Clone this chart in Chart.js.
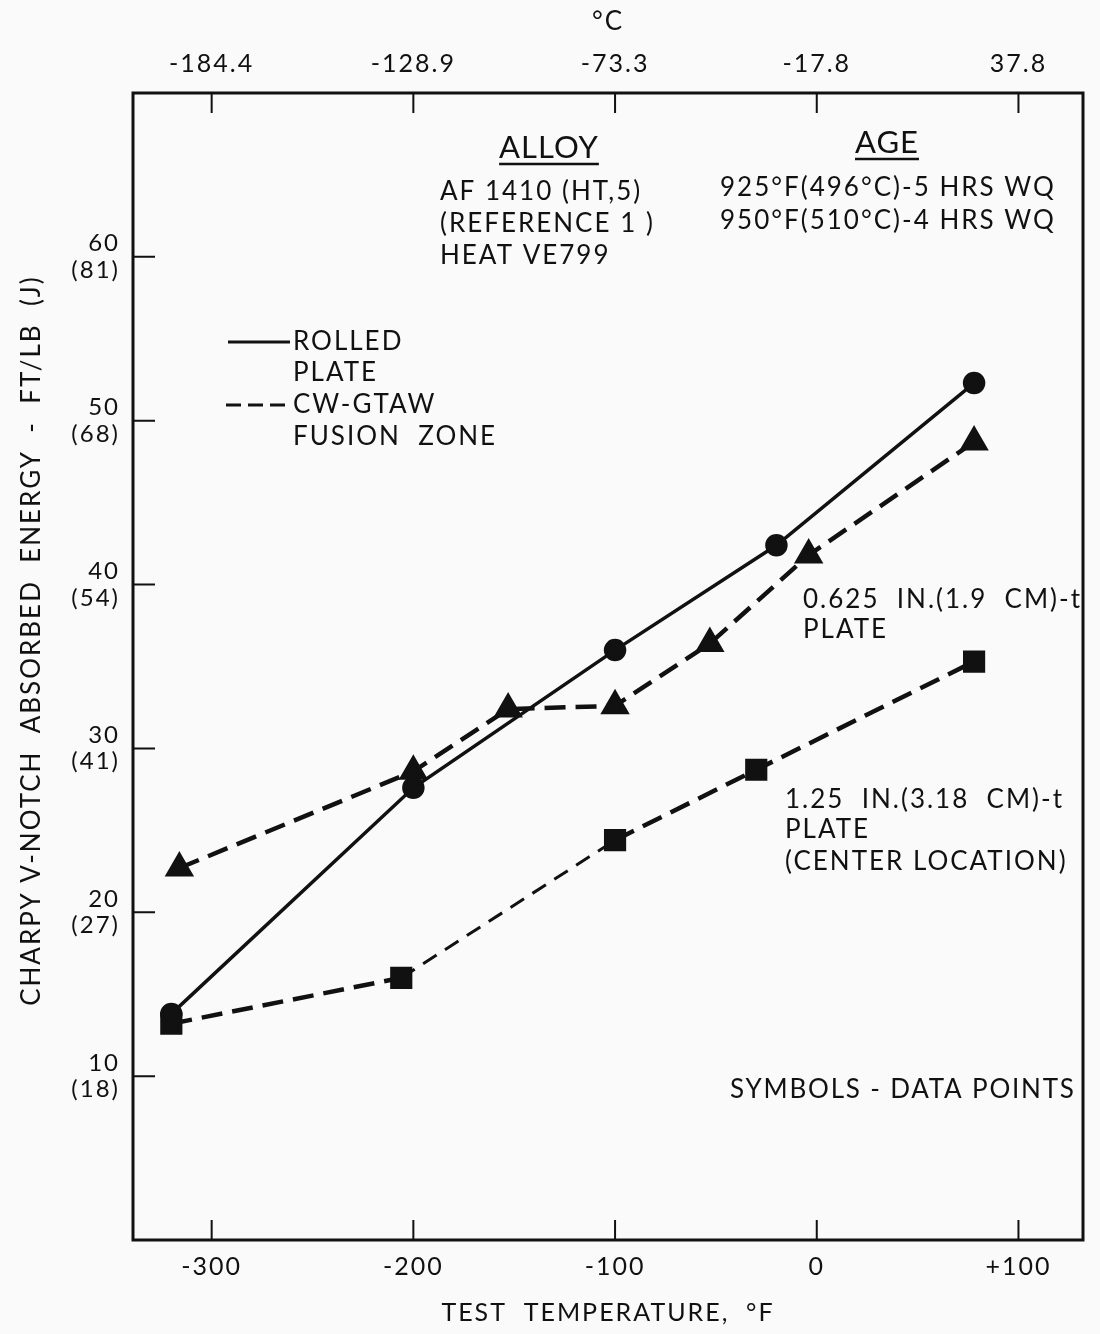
<!DOCTYPE html>
<html>
<head>
<meta charset="utf-8">
<script src="https://cdn.jsdelivr.net/npm/chart.js@4.4.1/dist/chart.umd.min.js"></script>
<style>
  body { margin: 0; background: #fafafa; }
  #wrap { width: 1100px; height: 1334px; position: relative; }
</style>
</head>
<body>
<div id="wrap"><canvas id="charpyChart"></canvas></div>
<script>
// data (deg F, ft-lb)
const rolledTemps = [-320, -200, -100, -20, 78];
const rolledEnergy = [13.8, 27.6, 36.0, 42.4, 52.3];

const fz625Temps = [-316, -200, -153, -100, -53, -4, 78];
const fz625Energy = [22.7, 28.6, 32.4, 32.6, 36.4, 41.8, 48.7];

const fz125Temps = [-320, -206, -100, -30, 78];
const fz125Energy = [13.2, 16.0, 24.4, 28.7, 35.3];

// axis ticks
const fTicks = [-300, -200, -100, 0, 100];
const fLabels = ['-300', '-200', '-100', '0', '+100'];
const cLabels = ['-184.4', '-128.9', '-73.3', '-17.8', '37.8'];
const energyTicks = [10, 20, 30, 40, 50, 60];
const joulesLabels = ['18', '27', '41', '54', '68', '81'];

const FONT = 'Lato';
const INK = '#111';

function toPoints(xs, ys) {
  return xs.map((x, i) => ({ x: x, y: ys[i] }));
}

// texts on the plot
const notes = [
  { t: 'ALLOY', x: 549, y: 148, size: 31, align: 'center', underline: true, sp: 1 },
  { t: 'AF 1410 (HT,5)', x: 440, y: 192 },
  { t: '(REFERENCE 1 )', x: 440, y: 224 },
  { t: 'HEAT VE799', x: 440, y: 256 },
  { t: 'AGE', x: 887, y: 143, size: 31, align: 'center', underline: true, sp: 1 },
  { t: '925\u00b0F(496\u00b0C)-5 HRS WQ', x: 720, y: 188 },
  { t: '950\u00b0F(510\u00b0C)-4 HRS WQ', x: 720, y: 221 },
  { t: 'ROLLED', x: 293, y: 342 },
  { t: 'PLATE', x: 293, y: 373 },
  { t: 'CW-GTAW', x: 293, y: 405 },
  { t: 'FUSION  ZONE', x: 293, y: 437 },
  { t: '0.625  IN.(1.9  CM)-t', x: 803, y: 600 },
  { t: 'PLATE', x: 803, y: 630 },
  { t: '1.25  IN.(3.18  CM)-t', x: 785, y: 800 },
  { t: 'PLATE', x: 785, y: 830 },
  { t: '(CENTER LOCATION)', x: 785, y: 862 },
  { t: 'SYMBOLS - DATA POINTS', x: 730, y: 1090, sp: 1.8 }
];

const framePlugin = {
  id: 'framePlugin',
  beforeDraw(chart) {
    // wide type like the original lettering
    chart.ctx.letterSpacing = '2px';
  },
  afterDraw(chart) {
    const ctx = chart.ctx;
    const a = chart.chartArea;
    const xs = chart.scales.x;
    const ys = chart.scales.y;
    ctx.save();
    ctx.strokeStyle = INK;
    ctx.lineWidth = 3;
    ctx.strokeRect(a.left, a.top, a.right - a.left, a.bottom - a.top);

    // inward ticks
    ctx.lineWidth = 2;
    ctx.beginPath();
    fTicks.forEach(v => {
      const px = xs.getPixelForValue(v);
      ctx.moveTo(px, a.bottom); ctx.lineTo(px, a.bottom - 20);
      ctx.moveTo(px, a.top); ctx.lineTo(px, a.top + 20);
    });
    energyTicks.forEach(v => {
      const py = ys.getPixelForValue(v);
      ctx.moveTo(a.left, py); ctx.lineTo(a.left + 22, py);
    });
    ctx.stroke();

    // legend samples
    ctx.lineWidth = 3;
    ctx.beginPath();
    ctx.moveTo(228, 342); ctx.lineTo(290, 342);
    ctx.stroke();
    ctx.setLineDash([15, 7]);
    ctx.beginPath();
    ctx.moveTo(226, 405); ctx.lineTo(290, 405);
    ctx.stroke();
    ctx.setLineDash([]);

    ctx.fillStyle = INK;
    ctx.textBaseline = 'middle';
    notes.forEach(n => {
      const size = n.size || 26;
      ctx.letterSpacing = (n.sp !== undefined ? n.sp : 2) + 'px';
      ctx.font = size + 'px ' + FONT;
      ctx.textAlign = n.align || 'left';
      ctx.fillText(n.t, n.x, n.y);
      if (n.underline) {
        const w = ctx.measureText(n.t).width;
        ctx.lineWidth = 2.5;
        ctx.beginPath();
        ctx.moveTo(n.x - w / 2, n.y + size * 0.52);
        ctx.lineTo(n.x + w / 2, n.y + size * 0.52);
        ctx.stroke();
      }
    });
    ctx.restore();
    ctx.letterSpacing = '0px';
  }
};

const ctx = document.getElementById('charpyChart').getContext('2d');
const chart = new Chart(ctx, {
  type: 'line',
  data: {
    datasets: [
      {
        label: 'Rolled plate',
        data: toPoints(rolledTemps, rolledEnergy),
        borderColor: INK,
        backgroundColor: INK,
        borderWidth: 3.5,
        pointStyle: 'circle',
        pointRadius: 9.5,
        tension: 0
      },
      {
        label: '0.625 in. plate fusion zone',
        data: toPoints(fz625Temps, fz625Energy),
        borderColor: INK,
        backgroundColor: INK,
        borderWidth: 4.5,
        borderDash: [21, 10],
        pointStyle: 'triangle',
        pointRadius: 12.5,
        tension: 0
      },
      {
        label: '1.25 in. plate fusion zone',
        data: toPoints(fz125Temps, fz125Energy),
        borderColor: INK,
        backgroundColor: INK,
        borderWidth: 4.5,
        borderDash: [21, 10],
        pointStyle: 'rect',
        pointRadius: 12.5,
        tension: 0,
        segment: {
          borderWidth: c => c.p0DataIndex === 1 ? 3 : 4.5,
          borderDash: c => c.p0DataIndex === 1 ? [16, 10] : [21, 10]
        }
      }
    ]
  },
  options: {
    responsive: true,
    maintainAspectRatio: false,
    animation: false,
    layout: { padding: { right: 17 } },
    plugins: {
      legend: { display: false },
      tooltip: { enabled: false }
    },
    scales: {
      x: {
        type: 'linear',
        position: 'bottom',
        min: -339,
        max: 132,
        afterBuildTicks: s => { s.ticks = fTicks.map(v => ({ value: v })); },
        afterFit: s => { s.height = 94; },
        grid: { display: false, drawTicks: false },
        border: { display: false },
        ticks: {
          padding: 12,
          color: INK,
          font: { family: FONT, size: 25 },
          callback: v => fLabels[fTicks.indexOf(v)]
        },
        title: {
          display: true,
          text: 'TEST  TEMPERATURE,  \u00b0F',
          color: INK,
          font: { family: FONT, size: 25 },
          padding: { top: 0, bottom: 6 }
        }
      },
      x2: {
        type: 'linear',
        position: 'top',
        min: -339,
        max: 132,
        afterBuildTicks: s => { s.ticks = fTicks.map(v => ({ value: v })); },
        afterFit: s => { s.height = 93; },
        grid: { display: false, drawTicks: false },
        border: { display: false },
        ticks: {
          padding: 14,
          color: INK,
          font: { family: FONT, size: 25 },
          callback: v => cLabels[fTicks.indexOf(v)]
        },
        title: {
          display: true,
          text: '\u00b0C',
          color: INK,
          font: { family: FONT, size: 26 },
          padding: { top: 6, bottom: 0 }
        }
      },
      y: {
        min: 0,
        max: 70,
        afterBuildTicks: s => { s.ticks = energyTicks.map(v => ({ value: v })); },
        afterFit: s => { s.width = 133; },
        grid: { display: false, drawTicks: false },
        border: { display: false },
        ticks: {
          padding: 13,
          color: INK,
          font: { family: FONT, size: 24, lineHeight: 1.1 },
          callback: v => [String(v), '(' + joulesLabels[energyTicks.indexOf(v)] + ')']
        },
        title: {
          display: true,
          // leading spaces nudge the rotated title up a little
          text: '      CHARPY V-NOTCH  ABSORBED  ENERGY  -  FT/LB  (J)',
          color: INK,
          font: { family: FONT, size: 26 },
          padding: { top: 16, bottom: 0 }
        }
      }
    }
  },
  plugins: [framePlugin]
});
</script>
</body>
</html>
